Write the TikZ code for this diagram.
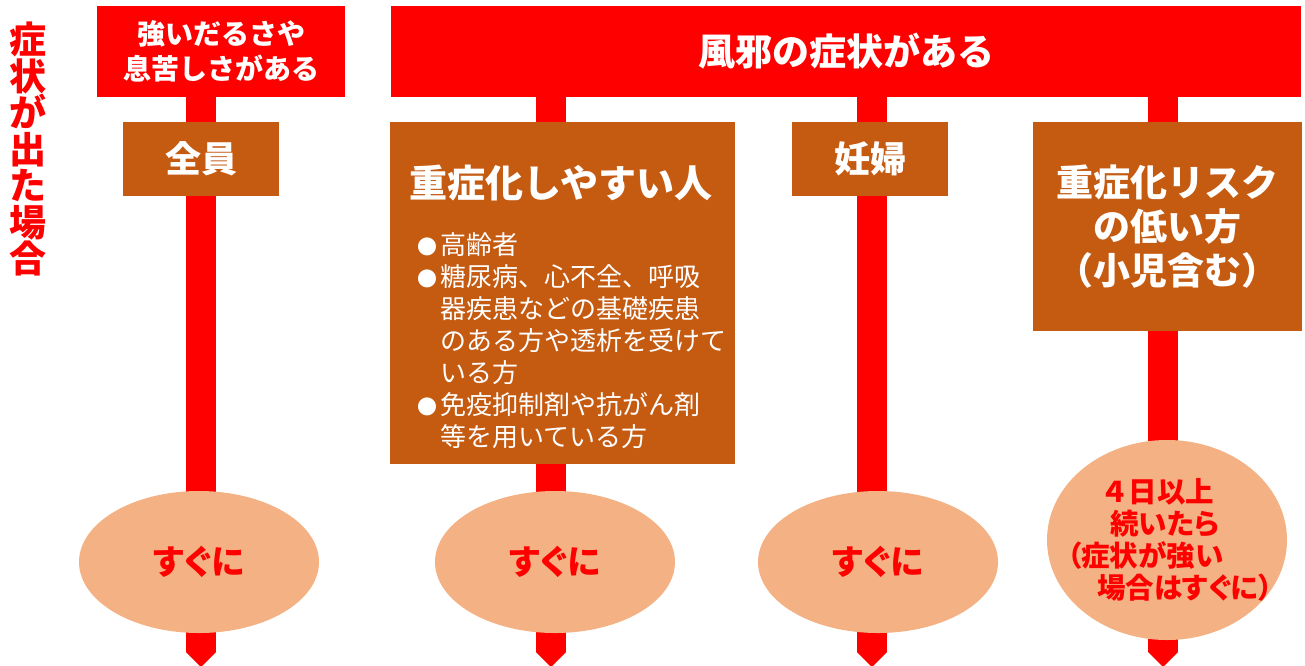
\documentclass[tikz,border=0pt]{standalone}
\usepackage{fontspec}
\setmainfont{Noto Sans CJK JP}
\newfontfamily\jpp{Noto Sans CJK JP}[RawFeature=+palt]
\usetikzlibrary{shapes.geometric,arrows.meta}
\definecolor{cred}{HTML}{FF0000}
\definecolor{cbrown}{HTML}{C55A11}
\definecolor{cpeach}{HTML}{F4B183}
\pgfdeclarelayer{bg}
\pgfsetlayers{bg,main}
\tikzset{
  redbox/.style={fill=cred, text=white, inner sep=0pt, align=center, font=\bfseries},
  brownbox/.style={fill=cbrown, text=white, inner sep=0pt, align=center, font=\bfseries},
  oval/.style={ellipse, fill=cpeach, inner sep=0pt, minimum width=240pt},
  ovaltext/.style={text=cred, inner sep=0pt, font=\bfseries\jpp},
  bar/.style={draw=cred, line width=30pt, -{Triangle[width=30pt,length=15pt,line width=0pt]}},
}
\begin{document}
\begin{tikzpicture}[x=1pt,y=-1pt]
\useasboundingbox (0,0) rectangle (1305,665);

% side label
\node[text=cred, font=\bfseries\fontsize{37}{36.5}\selectfont, align=center, inner sep=0pt] (side) at (28,149) {症\\状\\が\\出\\た\\場\\合};

% top boxes
\node[redbox, minimum width=248pt, minimum height=91pt, font=\bfseries\fontsize{28}{35}\selectfont] (top1) at (221,51.5) {強いだるさや\\息苦しさがある};
\node[redbox, minimum width=910pt, minimum height=91pt, font=\bfseries\fontsize{37}{40}\selectfont] (top2) at (846,51.5) {風邪の症状がある};

% brown boxes
\node[brownbox, minimum width=156pt, minimum height=74pt, font=\bfseries\fontsize{36}{36}\selectfont] (b1) at (201,159) {全員};
\node[brownbox, minimum width=345pt, minimum height=342pt] (b2) at (562.5,293) {};
\node[text=white, font=\bfseries\fontsize{38}{38}\selectfont, inner sep=0pt] (b2title) at (561,183) {重症化しやすい人};
\node[text=white, font=\fontsize{26}{32}\selectfont, align=left, inner sep=0pt, anchor=north west] (b2list) at (440,232)
{\llap{\fontsize{20}{20}\selectfont ●\hspace{3pt}}高齢者\\
 \llap{\fontsize{20}{20}\selectfont ●\hspace{3pt}}糖尿病、心不全、呼吸\\
 器疾患などの基礎疾患\\
 のある方や透析を受けて\\
 いる方\\
 \llap{\fontsize{20}{20}\selectfont ●\hspace{3pt}}免疫抑制剤や抗がん剤\\
 等を用いている方};
\node[brownbox, minimum width=156pt, minimum height=74pt, font=\bfseries\fontsize{36}{36}\selectfont] (b3) at (870,159) {妊婦};
\node[brownbox, minimum width=269pt, minimum height=209pt, font=\bfseries\fontsize{37}{44}\selectfont] (b4) at (1167.5,226.5) {重症化リスク\\の低い方\\（小児含む）};

% ovals
\node[oval, minimum height=142pt] (e1) at (199,562) {};
\node[ovaltext, font=\bfseries\jpp\fontsize{34}{34}\selectfont] (t1) at (e1.center) {すぐに};
\node[oval, minimum height=142pt] (e2) at (555,562) {};
\node[ovaltext, font=\bfseries\jpp\fontsize{34}{34}\selectfont] (t2) at (e2.center) {すぐに};
\node[oval, minimum height=142pt] (e3) at (878,562) {};
\node[ovaltext, font=\bfseries\jpp\fontsize{34}{34}\selectfont] (t3) at (e3.center) {すぐに};
\node[oval, minimum height=200pt] (e4) at (1167,540) {};
\node[ovaltext, font=\bfseries\jpp\fontsize{28.5}{32}\selectfont, align=left, anchor=north west] (t4) at (1067,478)
{\hspace{33pt}{\rmfamily\bfseries ４}日以上\\
 \hspace{43pt}続いたら\\
 （症状が強い\\
 \hspace{30pt}場合はすぐに）};

% bars
\coordinate (end1) at (201,667);
\coordinate (end2) at (551,667);
\coordinate (end3) at (872,667);
\coordinate (end4) at (1163,667);
\begin{pgfonlayer}{bg}
\draw[bar] (top1.south -| end1) -- (end1);
\draw[bar] (top2.south -| end2) -- (end2);
\draw[bar] (top2.south -| end3) -- (end3);
\draw[bar] (top2.south -| end4) -- (end4);
\end{pgfonlayer}
\end{tikzpicture}
\end{document}
